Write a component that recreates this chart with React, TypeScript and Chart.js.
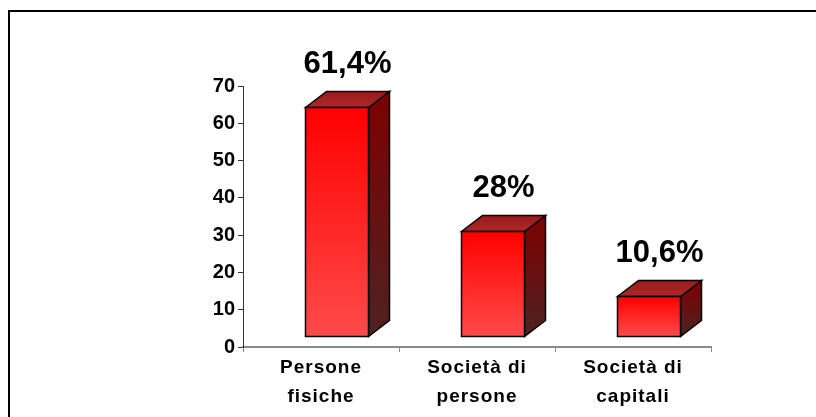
import React, { useEffect, useRef } from "react";
import { Chart, registerables } from "chart.js";

Chart.register(...registerables);

const categories: string[][] = [
  ["Persone", "fisiche"],
  ["Società di", "persone"],
  ["Società di", "capitali"],
];
const values: number[] = [61.4, 28, 10.6];
const valueLabels: string[] = ["61,4%", "28%", "10,6%"];
const yMin = 0;
const yMax = 70;
const yStep = 10;

const FONT = "'Liberation Sans', Arial, sans-serif";

const bars3d = {
  id: "bars3d",
  beforeDraw(chart: any) {
    const ctx = chart.ctx;
    ctx.save();
    ctx.strokeStyle = "#000";
    ctx.lineWidth = 2;
    ctx.strokeRect(9, 11, 1000, 600);
    ctx.restore();
    (ctx as any).letterSpacing = "1px";
  },
  beforeDatasetsDraw(chart: any) {
    (chart.ctx as any).letterSpacing = "0px";
  },
  afterDatasetsDraw(chart: any) {
    const ctx = chart.ctx;
    const xs = chart.scales.x;
    const ys = chart.scales.y;
    const w = xs.getPixelForValue(1) - xs.getPixelForValue(0);
    const offY = 11.5;
    const dx = 21;
    const dy = 16;
    ctx.save();
    (ctx as any).letterSpacing = "0px";
    values.forEach((v, i) => {
      const c = xs.getPixelForValue(i);
      const left = Math.round(c - 0.1 * w) + 0.5;
      const right = Math.round(c + 0.3 * w) + 0.5;
      const base = Math.round(ys.getPixelForValue(0) - offY) + 0.5;
      const top = Math.round(ys.getPixelForValue(v) - offY) + 0.5;

      ctx.lineWidth = 1.5;
      ctx.strokeStyle = "#000";
      ctx.lineJoin = "miter";

      let g = ctx.createLinearGradient(0, top - dy, 0, base);
      g.addColorStop(0, "#7E0000");
      g.addColorStop(1, "#4E2222");
      ctx.beginPath();
      ctx.moveTo(right, top);
      ctx.lineTo(right + dx, top - dy);
      ctx.lineTo(right + dx, base - dy);
      ctx.lineTo(right, base);
      ctx.closePath();
      ctx.fillStyle = g;
      ctx.fill();
      ctx.stroke();

      g = ctx.createLinearGradient(0, top - dy, 0, top);
      g.addColorStop(0, "#9A1A1A");
      g.addColorStop(1, "#B02828");
      ctx.beginPath();
      ctx.moveTo(left, top);
      ctx.lineTo(left + dx, top - dy);
      ctx.lineTo(right + dx, top - dy);
      ctx.lineTo(right, top);
      ctx.closePath();
      ctx.fillStyle = g;
      ctx.fill();
      ctx.stroke();

      g = ctx.createLinearGradient(0, top, 0, base);
      g.addColorStop(0, "#FF0000");
      g.addColorStop(1, "#FF4A4A");
      ctx.beginPath();
      ctx.rect(left, top, right - left, base - top);
      ctx.fillStyle = g;
      ctx.fill();
      ctx.stroke();

      ctx.fillStyle = "#000";
      ctx.font = `bold 31px ${FONT}`;
      ctx.textAlign = "center";
      ctx.textBaseline = "alphabetic";
      ctx.fillText(valueLabels[i], (left + right + dx) / 2, top - dy - 19);
    });
    ctx.restore();
  },
};

export default function App() {
  const ref = useRef<HTMLCanvasElement | null>(null);
  useEffect(() => {
    if (!ref.current) return;
    const chart = new Chart(ref.current, {
      type: "bar",
      data: {
        labels: categories,
        datasets: [
          {
            data: values,
            backgroundColor: "rgba(0,0,0,0)",
            borderWidth: 0,
          },
        ],
      },
      options: {
        animation: false,
        responsive: false,
        maintainAspectRatio: false,
        layout: { padding: { top: 86, right: 105, left: 0, bottom: 0 } },
        plugins: {
          legend: { display: false },
          tooltip: { enabled: false },
        },
        scales: {
          x: {
            grid: {
              offset: true,
              drawOnChartArea: false,
              drawTicks: true,
              tickLength: 5,
              color: "#8a8a8a",
            },
            border: { color: "#8a8a8a", width: 2 },
            ticks: {
              color: "#000",
              font: { family: FONT, size: 19, weight: "bold", lineHeight: 1.5 },
              padding: 2,
              maxRotation: 0,
              autoSkip: false,
            },
            afterFit: (s: any) => {
              s.height = 70;
            },
          },
          y: {
            min: yMin,
            max: yMax,
            ticks: {
              z: 1,
              stepSize: yStep,
              color: "#000",
              font: { family: FONT, size: 20, weight: "bold" },
              padding: 3,
            },
            grid: {
              drawOnChartArea: false,
              tickLength: 5,
              color: "#333",
            },
            border: { color: "#333", width: 1 },
            afterFit: (s: any) => {
              s.width = 243;
            },
          },
        },
      },
      plugins: [bars3d],
    });
    return () => chart.destroy();
  }, []);
  return (
    <div style={{ position: "absolute", left: 0, top: 0, width: 816, height: 417, background: "#fff" }}>
      <canvas ref={ref} width={816} height={417} />
    </div>
  );
}
